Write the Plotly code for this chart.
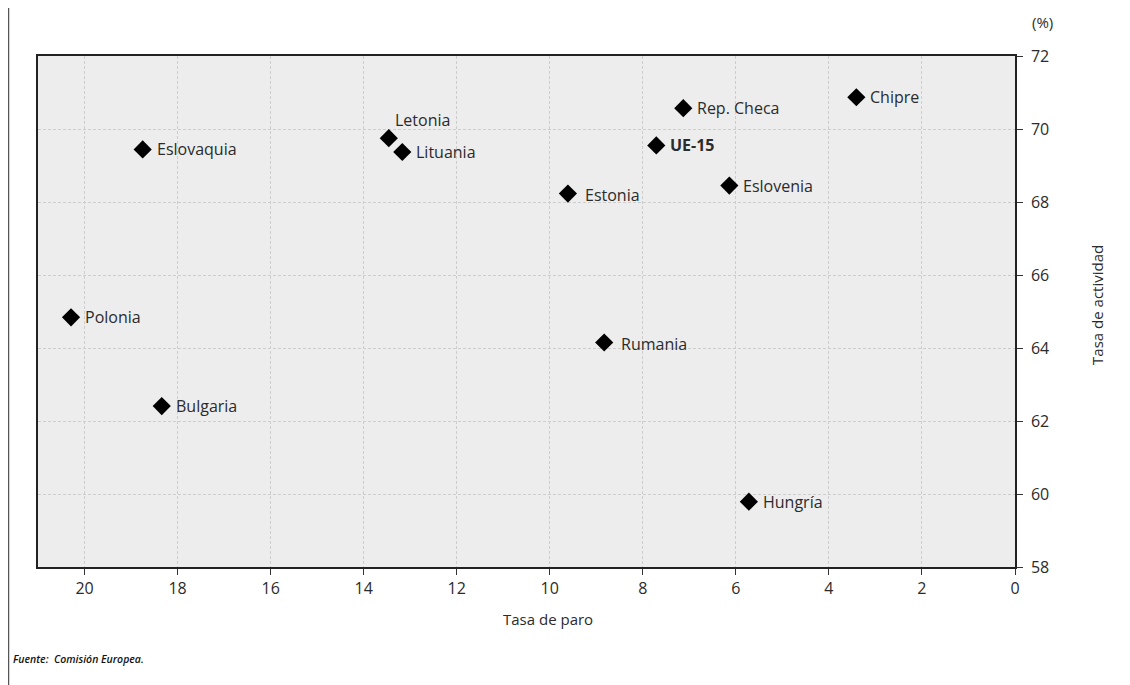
import plotly.graph_objects as go

# ---- data ----
countries = ["Chipre", "Rep. Checa", "UE-15", "Eslovenia", "Estonia", "Letonia",
             "Lituania", "Eslovaquia", "Polonia", "Rumania", "Bulgaria", "Hungría"]
tasa_paro = [3.41, 7.13, 7.71, 6.14, 9.61, 13.46, 13.17, 18.75, 20.29, 8.83, 18.34, 5.72]
tasa_actividad = [70.87, 70.57, 69.55, 68.45, 68.23, 69.75, 69.37, 69.44, 64.84, 64.15, 62.41, 59.79]
x_ticks = [20, 18, 16, 14, 12, 10, 8, 6, 4, 2, 0]
y_ticks = [58, 60, 62, 64, 66, 68, 70, 72]

# ---- label styling (offsets in px) ----
label_shift = {"Letonia": (4, 18), "Estonia": (15, -1), "Rumania": (15, -1)}
default_shift = (12, 0)
bold_labels = {"UE-15"}

FONT = "Open Sans"
TXT = "#2b2b2b"

fig = go.Figure()
fig.add_trace(go.Scatter(
    x=tasa_paro, y=tasa_actividad, mode="markers",
    marker=dict(symbol="diamond", size=14, color="black"),
    hoverinfo="text", text=countries, showlegend=False,
))

annotations = []
for name, xv, yv in zip(countries, tasa_paro, tasa_actividad):
    dx, dy = label_shift.get(name, default_shift)
    txt = f"<b>{name}</b>" if name in bold_labels else name
    annotations.append(dict(
        x=xv, y=yv, xref="x", yref="y", text=txt, showarrow=False,
        xanchor="left", yanchor="middle", xshift=dx, yshift=dy,
        font=dict(family=FONT, size=16, color=TXT),
    ))

# units, axis titles, source
annotations.append(dict(x=1.028, y=1.0, xref="paper", yref="paper", yshift=34,
                        text="(%)", showarrow=False, xanchor="center", yanchor="middle",
                        font=dict(family=FONT, size=15, color=TXT)))
annotations.append(dict(x=0.522, y=0, xref="paper", yref="paper", yshift=-52,
                        text="Tasa de paro", showarrow=False, xanchor="center", yanchor="middle",
                        font=dict(family=FONT, size=15, color=TXT)))
annotations.append(dict(x=1.084, y=0.513, xref="paper", yref="paper", textangle=-90,
                        text="Tasa de actividad", showarrow=False, xanchor="center", yanchor="middle",
                        font=dict(family=FONT, size=15, color=TXT)))
annotations.append(dict(x=-0.0275, y=0, xref="paper", yref="paper", yshift=-92,
                        text="<i>Fuente:  Comisión Europea.</i>", showarrow=False,
                        xanchor="left", yanchor="middle",
                        font=dict(family=FONT, size=10.5, color="#111", weight=600)))

fig.update_layout(
    width=1130, height=685,
    margin=dict(l=30, r=123, t=48, b=126),
    paper_bgcolor="white", plot_bgcolor="#ededed",
    font=dict(family=FONT, size=16, color=TXT),
    annotations=annotations,
    shapes=[dict(type="line", xref="paper", yref="paper",
                 x0=-0.0302, x1=-0.0302, y0=-0.3, y1=1.2,
                 line=dict(color="#555555", width=1.5))],
    xaxis=dict(
        range=[21, 0], tickvals=x_ticks, ticks="outside", ticklen=6,
        tickcolor="#333", tickfont=dict(size=16, color=TXT),
        showgrid=True, gridcolor="#cdcdcd", griddash="3px,2px", gridwidth=1,
        showline=True, linecolor="#222", linewidth=1.5, mirror=True,
        zeroline=False,
    ),
    yaxis=dict(
        range=[58, 72], tickvals=y_ticks, side="right", ticks="outside", ticklen=6,
        tickcolor="#333", tickfont=dict(size=16, color=TXT), ticklabelstandoff=5,
        showgrid=True, gridcolor="#cdcdcd", griddash="3px,2px", gridwidth=1,
        showline=True, linecolor="#222", linewidth=1.5, mirror=True,
        zeroline=False,
    ),
)

fig.write_html("out.html")
